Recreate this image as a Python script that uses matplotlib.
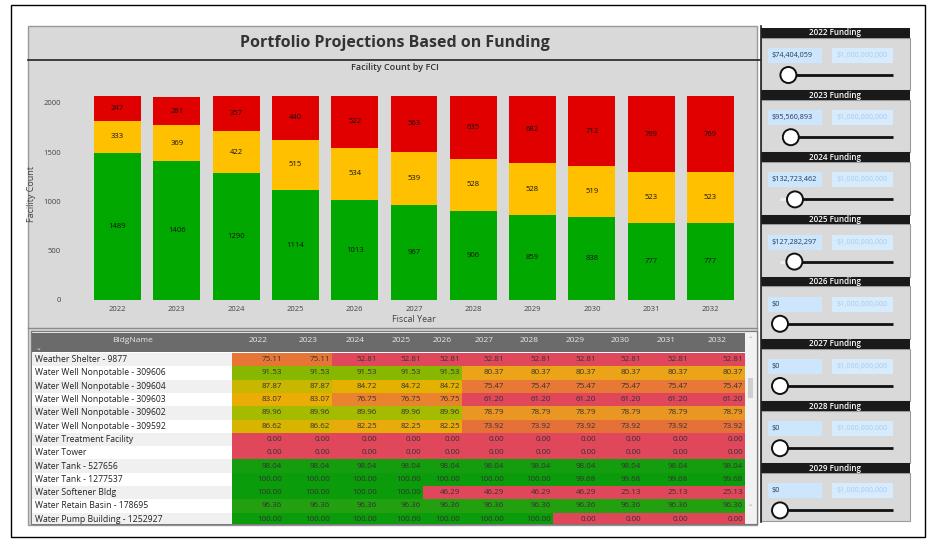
import numpy as np
import matplotlib
matplotlib.use("Agg")
import matplotlib.pyplot as plt
from matplotlib.patches import Rectangle, Circle
from matplotlib.colors import LinearSegmentedColormap, Normalize

plt.rcParams['font.family'] = ['Open Sans', 'DejaVu Sans']

# ---------------- data ----------------
years = ["2022", "2023", "2024", "2025", "2026", "2027", "2028", "2029", "2030", "2031", "2032"]
good = [1489, 1406, 1290, 1114, 1013, 967, 906, 859, 838, 777, 777]
fair = [333, 369, 422, 515, 534, 539, 528, 528, 519, 523, 523]
poor = [247, 281, 357, 440, 522, 563, 635, 682, 712, 769, 769]

bldg_names = [
    "Weather Shelter - 9877",
    "Water Well Nonpotable - 309606",
    "Water Well Nonpotable - 309604",
    "Water Well Nonpotable - 309603",
    "Water Well Nonpotable - 309602",
    "Water Well Nonpotable - 309592",
    "Water Treatment Facility",
    "Water Tower",
    "Water Tank - 527656",
    "Water Tank - 1277537",
    "Water Softener Bldg",
    "Water Retain Basin - 178695",
    "Water Pump Building - 1252927",
]
fci_rows = [
    [75.11, 75.11, 52.81, 52.81, 52.81, 52.81, 52.81, 52.81, 52.81, 52.81, 52.81],
    [91.53, 91.53, 91.53, 91.53, 91.53, 80.37, 80.37, 80.37, 80.37, 80.37, 80.37],
    [87.87, 87.87, 84.72, 84.72, 84.72, 75.47, 75.47, 75.47, 75.47, 75.47, 75.47],
    [83.07, 83.07, 76.75, 76.75, 76.75, 61.20, 61.20, 61.20, 61.20, 61.20, 61.20],
    [89.96, 89.96, 89.96, 89.96, 89.96, 78.79, 78.79, 78.79, 78.79, 78.79, 78.79],
    [86.62, 86.62, 82.25, 82.25, 82.25, 73.92, 73.92, 73.92, 73.92, 73.92, 73.92],
    [0.00] * 11,
    [0.00] * 11,
    [98.04] * 11,
    [100.00] * 7 + [99.68] * 4,
    [100.00] * 4 + [46.29] * 4 + [25.13] * 3,
    [96.36] * 11,
    [100.00] * 7 + [0.00] * 4,
]

funding_years = ["2022", "2023", "2024", "2025", "2026", "2027", "2028", "2029"]
funding_values = [74404059, 95560893, 132723462, 127282297, 0, 0, 0, 0]
funding_max = 1000000000

# ---------------- figure ----------------
W, H = 930, 540
fig = plt.figure(figsize=(W / 100, H / 100), dpi=100)
fig.patch.set_facecolor("white")

bg = fig.add_axes([0, 0, 1, 1])
bg.set_xlim(0, W)
bg.set_ylim(H, 0)
bg.axis("off")

GREY = "#d9d9d9"
# outer frame
bg.add_patch(Rectangle((11, 5), 914, 532, fill=False, ec="black", lw=1))
# main panel
bg.add_patch(Rectangle((28, 26), 729, 499, fc=GREY, ec="#9a9a9a", lw=1))
bg.plot([28, 760], [60, 60], color="#222222", lw=1.2)
bg.text(395, 43, "Portfolio Projections Based on Funding", ha="center", va="center",
        fontsize=11.5, fontweight="bold", color="#333333")
bg.text(395, 68, "Facility Count by FCI", ha="center", va="center",
        fontsize=6.5, fontweight="semibold", color="#333333")
bg.plot([28, 757], [328, 328], color="#8a8a8a", lw=1)

# ---------------- bar chart ----------------
def frect(l, t, r, b):
    return [l / W, 1 - b / H, (r - l) / W, (b - t) / H]

ax = fig.add_axes(frect(76, 88, 752, 300))
ax.set_facecolor("none")
x = np.arange(len(years))
bw = 0.79
b1 = ax.bar(x, good, bw, color="#00a800")
b2 = ax.bar(x, fair, bw, bottom=good, color="#ffc000")
b3 = ax.bar(x, poor, bw, bottom=np.array(good) + np.array(fair), color="#e00000")
for bars in (b1, b2, b3):
    ax.bar_label(bars, label_type="center", fontsize=5.5, color="#111111")
ax.set_xlim(-0.7, len(years) - 0.3)
ax.set_ylim(0, 2152)
ax.set_xticks(x, years)
ax.set_yticks([0, 500, 1000, 1500, 2000])
ax.tick_params(length=0, labelsize=5.5, labelcolor="#444444")
ax.tick_params(axis="y", pad=11)
ax.tick_params(axis="x", pad=4)
for s in ax.spines.values():
    s.set_visible(False)
ax.set_xlabel("Fiscal Year", fontsize=6.5, color="#444444", labelpad=2)
ax.set_ylabel("Facility Count", fontsize=6.5, color="#444444")
ax.yaxis.set_label_coords(-0.059, 0.5)

# ---------------- table ----------------
bg.add_patch(Rectangle((31, 331), 726, 193, fc="white", ec="#7a7a7a", lw=1))
bg.add_patch(Rectangle((32, 333), 713, 19, fc="#6b6b6b", ec="none"))
col_edges = [232, 284, 332, 379, 423, 462, 506, 553, 598, 643, 690, 745]
bg.text(133, 341, "BldgName", ha="center", va="center", fontsize=6, color="#e8e8e8")
bg.text(38, 348, "⌄", ha="center", va="center", fontsize=5, color="#e8e8e8")
for i, yr in enumerate(years):
    bg.text((col_edges[i] + col_edges[i + 1]) / 2, 341, yr, ha="center", va="center",
            fontsize=6, color="#e8e8e8")
# scrollbar
bg.add_patch(Rectangle((745, 333), 11, 190, fc="#f2f2f2", ec="none"))
bg.add_patch(Rectangle((748, 378), 5, 20, fc="#cfcfcf", ec="none"))
bg.text(750.5, 340, "˄", ha="center", va="center", fontsize=5, color="#888888")
bg.text(750.5, 508, "˅", ha="center", va="center", fontsize=5, color="#888888")

row_h = 13.3
tax = fig.add_axes(frect(32, 353, 745, 524))
tax.axis("off")
n_rows = len(bldg_names)
tax.set_xlim(32, 745)
tax.set_ylim((524 - 353) / row_h, 0)

anchors = [(0.0, "#e0475a"), (0.65, "#e0475a"), (0.72, "#e2663f"), (0.76, "#e87a34"),
           (0.80, "#eba21a"), (0.84, "#e8b000"), (0.87, "#d6b400"), (0.90, "#a8bc00"),
           (0.92, "#84b600"), (0.95, "#3aa40c"), (0.97, "#1a9e12"), (1.0, "#0a9c0a")]
cmap = LinearSegmentedColormap.from_list("fci", anchors)
vals = np.array(fci_rows)
rows = np.arange(n_rows)
tax.barh(rows + 0.5, 232 - 32, left=32, height=1,
         color=["#f0f0f0" if r % 2 == 0 else "#ffffff" for r in rows])
tax.pcolormesh(col_edges, np.arange(n_rows + 1), vals, cmap=cmap,
               norm=Normalize(0, 100), shading="flat")
for r, name in enumerate(bldg_names):
    tax.text(35, r + 0.5, name, ha="left", va="center", fontsize=6.2, color="#222222",
             clip_on=True)
    for c, v in enumerate(fci_rows[r]):
        tax.text(col_edges[c + 1] - 2, r + 0.5, f"{v:.2f}", ha="right", va="center",
                 fontsize=5.8, color="#333333", clip_on=True)

# ---------------- funding sliders ----------------
bg.plot([761, 761], [26, 522], color="#222222", lw=1.2)
for i, (fy, fv) in enumerate(zip(funding_years, funding_values)):
    h0 = 28 + 62.2 * i
    h_next = 28 + 62.2 * (i + 1) if i < len(funding_years) - 1 else 521
    bg.add_patch(Rectangle((761, h0 + 9.5), 149, h_next - h0 - 9.5, fc=GREY,
                           ec="#9a9a9a", lw=0.8))
    bg.add_patch(Rectangle((761, h0), 149, 9.5, fc="#1a1a1a", ec="none"))
    bg.text(835, h0 + 4.8, f"{fy} Funding", ha="center", va="center", fontsize=5.8,
            fontweight="semibold", color="white")
    bg.add_patch(Rectangle((768, h0 + 20), 54, 15, fc="#cde6fb", ec="none"))
    bg.text(771, h0 + 27.5, f"${fv:,.0f}", ha="left", va="center", fontsize=5.2,
            color="#1f3a66")
    bg.add_patch(Rectangle((832, h0 + 20), 61, 15, fc="#d6ebfc", ec="none"))
    bg.text(862.5, h0 + 27.5, f"${funding_max:,.0f}", ha="center", va="center",
            fontsize=5.2, color="#a9cdee")
    ky = h0 + 47
    kx = 780 + fv / funding_max * 113
    bg.plot([780, kx], [ky, ky], color="#efefef", lw=2, solid_capstyle="butt")
    bg.plot([kx, 893], [ky, ky], color="#111111", lw=2, solid_capstyle="butt")
    bg.add_patch(Circle((kx, ky), 8, fc="white", ec="#111111", lw=1.4, zorder=5))

fig.savefig("out.png", dpi=100, facecolor="white")
